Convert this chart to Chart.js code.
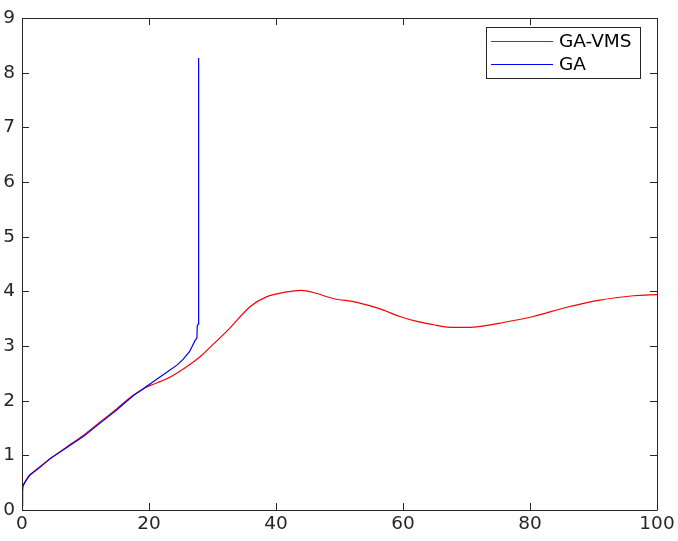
<!DOCTYPE html>
<html>
<head>
<meta charset="utf-8">
<script src="https://cdn.jsdelivr.net/npm/chart.js@4/dist/chart.umd.min.js"></script>
<style>
  html, body { margin: 0; padding: 0; background: #fff; }
  #wrap { width: 678px; height: 541px; }
</style>
</head>
<body>
<div id="wrap"><canvas id="chart"></canvas></div>
<script>
// --- data ---
const seriesNames = ['GA-VMS', 'GA'];
const seriesColors = ['#ff0000', '#0000ff'];

const gaVmsX = [0, 0.05, 0.15, 0.5, 1.2, 2.8, 5.2, 7, 9.7, 12.3, 14.9, 17.5, 19.5, 20.2, 22.8, 25.4, 28, 30, 32.5, 35.9, 38.5, 41.7, 44, 45.9, 49, 52.7, 56.4, 59.5, 62.2, 64.8, 66.6, 69, 71.6, 75.3, 80.5, 85.8, 91, 96.3, 100];
const gaVmsY = [0.08, 0.3, 0.43, 0.52, 0.64, 0.79, 1.0, 1.15, 1.37, 1.61, 1.85, 2.10, 2.24, 2.28, 2.40, 2.58, 2.80, 3.02, 3.30, 3.72, 3.90, 3.99, 4.02, 3.98, 3.87, 3.80, 3.68, 3.54, 3.45, 3.39, 3.35, 3.34, 3.35, 3.42, 3.54, 3.71, 3.84, 3.92, 3.94];

const gaX = [0, 0.05, 0.15, 0.47, 1.26, 2.83, 4.4, 7, 9.7, 12.3, 14.9, 17.5, 20.2, 22.8, 24.5, 25.4, 26.4, 27.2, 27.55, 27.6, 27.75, 27.75, 27.85, 27.85];
const gaY = [0.08, 0.3, 0.43, 0.51, 0.64, 0.78, 0.94, 1.14, 1.35, 1.59, 1.83, 2.09, 2.31, 2.52, 2.66, 2.76, 2.90, 3.09, 3.15, 3.37, 3.40, 6.94, 6.96, 8.27];

const xTicks = [0, 20, 40, 60, 80, 100];
const yTicks = [0, 1, 2, 3, 4, 5, 6, 7, 8, 9];

const axisColor = '#262626';
const fontTick = { family: 'DejaVu Sans', size: 18.5 };

const toPoints = (xs, ys) => xs.map((x, i) => ({ x: x, y: ys[i] }));

// box, inward ticks on all four sides, and legend inside the axes
const matlabAxes = {
    id: 'matlabAxes',
    afterDraw(chart) {
        const ctx = chart.ctx;
        const a = chart.chartArea;
        const sx = chart.scales.x, sy = chart.scales.y;
        const tl = 7;
        ctx.save();
        ctx.strokeStyle = axisColor;
        ctx.lineWidth = 1;
        ctx.beginPath();
        ctx.rect(Math.round(a.left) + 0.5, Math.round(a.top) + 0.5, Math.round(a.right - a.left), Math.round(a.bottom - a.top));
        xTicks.forEach(v => {
            const px = Math.round(sx.getPixelForValue(v)) + 0.5;
            ctx.moveTo(px, a.bottom); ctx.lineTo(px, a.bottom - tl);
            ctx.moveTo(px, a.top); ctx.lineTo(px, a.top + tl);
        });
        yTicks.forEach(v => {
            const py = Math.round(sy.getPixelForValue(v)) + 0.5;
            ctx.moveTo(a.left, py); ctx.lineTo(a.left + tl, py);
            ctx.moveTo(a.right, py); ctx.lineTo(a.right - tl, py);
        });
        ctx.stroke();

        // legend
        const lx = 486.5, ly = 27.5, lw = 154, lh = 51;
        ctx.fillStyle = '#fff';
        ctx.fillRect(lx, ly, lw, lh);
        ctx.strokeRect(lx, ly, lw, lh);
        ctx.font = fontTick.size + 'px ' + fontTick.family;
        ctx.textBaseline = 'middle';
        chart.data.datasets.forEach((ds, i) => {
            const yy = 41.5 + i * 23;
            ctx.strokeStyle = ds.borderColor;
            ctx.beginPath();
            ctx.moveTo(491, yy); ctx.lineTo(553, yy);
            ctx.stroke();
            ctx.fillStyle = '#000';
            ctx.fillText(ds.label, 559, yy + 1);
        });
        ctx.restore();
    }
};

new Chart(document.getElementById('chart'), {
    type: 'scatter',
    data: {
        datasets: [
            {
                label: seriesNames[0], data: toPoints(gaVmsX, gaVmsY),
                showLine: true, borderColor: seriesColors[0], borderWidth: 1.2,
                pointRadius: 0, tension: 0.3, order: 1
            },
            {
                label: seriesNames[1], data: toPoints(gaX, gaY),
                showLine: true, borderColor: seriesColors[1], borderWidth: 1.2,
                pointRadius: 0, tension: 0, order: 0
            }
        ]
    },
    options: {
        responsive: true, maintainAspectRatio: false, animation: false,
        layout: { padding: { top: 10, right: 21, left: 0, bottom: 0 } },
        plugins: { legend: { display: false }, tooltip: { enabled: false } },
        scales: {
            x: {
                type: 'linear', min: 0, max: 100,
                grid: { display: false, drawTicks: false, tickLength: 0 }, border: { display: false },
                afterBuildTicks: s => { s.ticks = xTicks.map(v => ({ value: v })); },
                afterFit: s => { s.height = 31; },
                ticks: { color: axisColor, font: fontTick, padding: 3, maxRotation: 0 }
            },
            y: {
                type: 'linear', min: 0, max: 9,
                grid: { display: false, drawTicks: false, tickLength: 0 }, border: { display: false },
                afterBuildTicks: s => { s.ticks = yTicks.map(v => ({ value: v })); },
                afterFit: s => { s.width = 22; },
                ticks: { color: axisColor, font: fontTick, padding: 7 }
            }
        }
    },
    plugins: [matlabAxes]
});
</script>
</body>
</html>
